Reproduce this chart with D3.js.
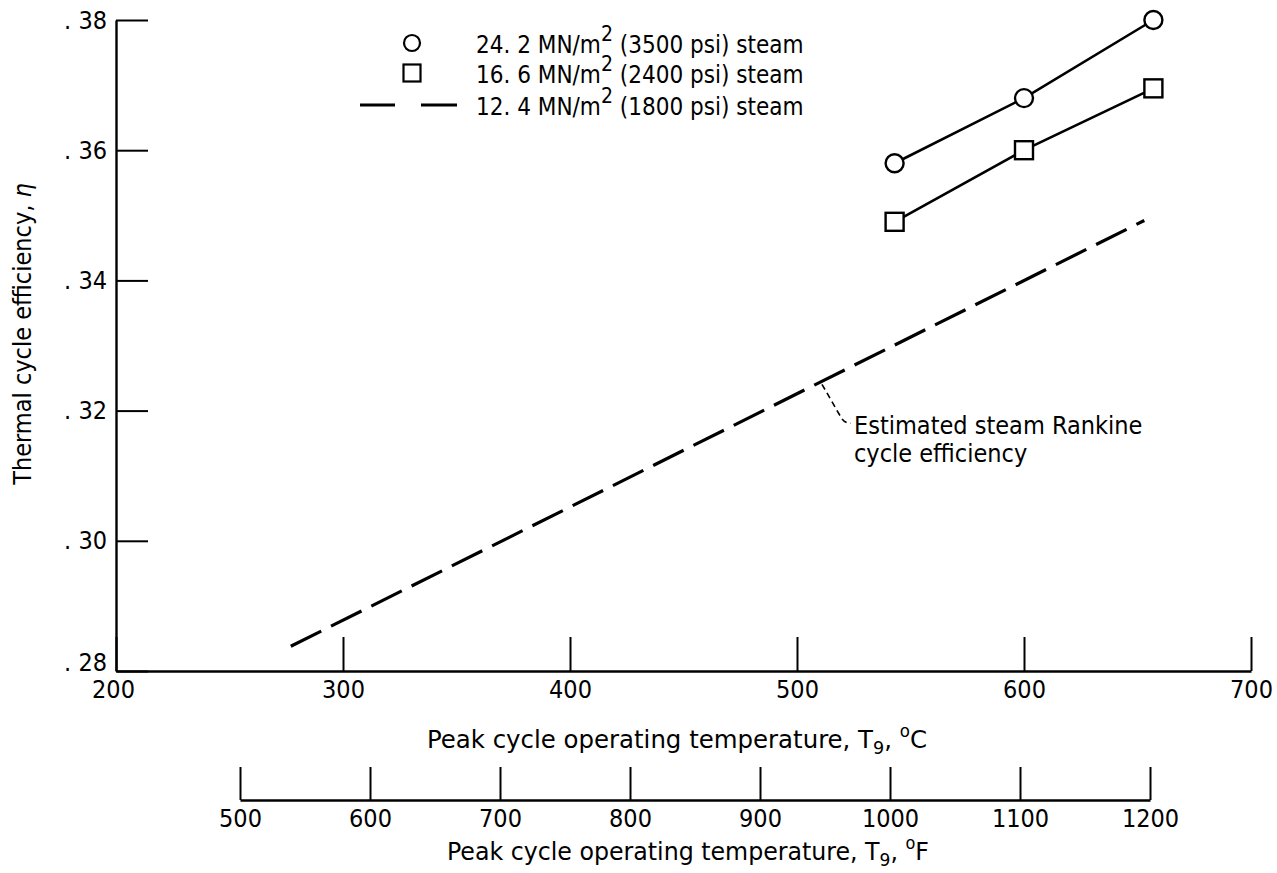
<!DOCTYPE html>
<html>
<head>
<meta charset="utf-8">
<script src="https://cdn.jsdelivr.net/npm/d3@7"></script>
<style>
  html, body { margin: 0; padding: 0; background: #fff; }
  svg { display: block; }
</style>
</head>
<body>
<script>
// Peak cycle temperatures (deg C) of the plotted steam conditions
const tempC = [543, 600, 657];
// Thermal cycle efficiency at 24.2 MN/m^2 (3500 psi)
const eff3500 = [0.358, 0.368, 0.380];
// Thermal cycle efficiency at 16.6 MN/m^2 (2400 psi)
const eff2400 = [0.349, 0.360, 0.3695];
// Estimated Rankine cycle efficiency, 12.4 MN/m^2 (1800 psi) – straight line end points
const rankineC = [277, 653];
const rankineEff = [0.2838, 0.3492];

// Axis ticks
const yTicks = [0.28, 0.30, 0.32, 0.34, 0.36, 0.38];
const cTicks = [200, 300, 400, 500, 600, 700];
const fTicks = [500, 600, 700, 800, 900, 1000, 1100, 1200];

// Legend entries
const legendPressure = ["24. 2", "16. 6", "12. 4"];
const legendPsi = ["3500", "2400", "1800"];

const FONT = "'Liberation Sans Narrow', 'DejaVu Sans Condensed', 'Liberation Sans', sans-serif";
const INK = "#000";

const W = 1277, H = 873;
const svg = d3.select("body").append("svg")
  .attr("width", W).attr("height", H)
  .attr("font-family", FONT);

svg.append("rect").attr("width", W).attr("height", H).attr("fill", "#fff");

const x = d3.scaleLinear().domain([200, 700]).range([116, 1251]);
const y = d3.scaleLinear().domain([0.28, 0.38]).range([671, 20]);
const xF = d3.scaleLinear().domain([500, 1200]).range([240, 1150]);

function styleAxis(g, size) {
  g.select(".domain").attr("stroke", INK).attr("stroke-width", 2.4);
  g.selectAll(".tick line").attr("stroke", INK).attr("stroke-width", 2);
  g.selectAll(".tick text").attr("fill", INK).attr("font-size", size).attr("font-family", FONT);
}

// Celsius axis (ticks point up into the plot)
const gx = svg.append("g")
  .attr("transform", `translate(0,${y(0.28)})`)
  .call(d3.axisBottom(x).tickValues(cTicks).tickSizeInner(-34).tickSizeOuter(0)
    .tickPadding(9).tickFormat(d3.format("d")));
styleAxis(gx, 25);
gx.selectAll(".tick text").filter(d => d === 200).attr("dx", -3);

// Efficiency axis (ticks point right into the plot)
const gy = svg.append("g")
  .attr("transform", `translate(${x(200)},0)`)
  .call(d3.axisLeft(y).tickValues(yTicks).tickSizeInner(-32).tickSizeOuter(0)
    .tickPadding(9).tickFormat(d => ". " + d3.format(".2f")(d).slice(2)));
styleAxis(gy, 25);
// lowest label sits just above the corner, clear of the "200"
gy.selectAll(".tick text").filter(d => d === 0.28).attr("y", -9);

// Fahrenheit axis below
const gf = svg.append("g")
  .attr("transform", "translate(0,800)")
  .call(d3.axisBottom(xF).tickValues(fTicks).tickSizeInner(-33).tickSizeOuter(0)
    .tickPadding(9).tickFormat(d3.format("d")));
styleAxis(gf, 25);

// Axis titles
const yTitle = svg.append("text")
  .attr("transform", "translate(31,334) rotate(-90)")
  .attr("text-anchor", "middle")
  .attr("font-size", 25).attr("fill", INK);
yTitle.append("tspan").text("Thermal cycle efficiency, ");
yTitle.append("tspan").attr("font-style", "italic").text("η");

function tempTitle(cx, by, unit, len) {
  const t = svg.append("text")
    .attr("x", cx).attr("y", by)
    .attr("text-anchor", "middle")
    .attr("font-size", 25).attr("fill", INK)
    .attr("textLength", len).attr("lengthAdjust", "spacingAndGlyphs");
  t.append("tspan").text("Peak cycle operating temperature, T");
  t.append("tspan").attr("font-size", 18).attr("dy", 6).text("9");
  t.append("tspan").attr("dy", -6).text(",  ");
  t.append("tspan").attr("font-size", 17).attr("dy", -11).text("o");
  t.append("tspan").attr("dy", 11).text(unit);
}
tempTitle(677, 748, "C", 500);
tempTitle(688, 860, "F", 482);

// Series
const line = d3.line().x(d => x(d[0])).y(d => y(d[1]));
const s3500 = tempC.map((t, i) => [t, eff3500[i]]);
const s2400 = tempC.map((t, i) => [t, eff2400[i]]);
const sRankine = rankineC.map((t, i) => [t, rankineEff[i]]);

svg.append("path").datum(sRankine)
  .attr("d", line).attr("fill", "none")
  .attr("stroke", INK).attr("stroke-width", 3.2)
  .attr("stroke-dasharray", "34,11");

[s3500, s2400].forEach(s => {
  svg.append("path").datum(s)
    .attr("d", line).attr("fill", "none")
    .attr("stroke", INK).attr("stroke-width", 2.6);
});

svg.append("g").selectAll("circle").data(s3500).join("circle")
  .attr("cx", d => x(d[0])).attr("cy", d => y(d[1])).attr("r", 9)
  .attr("fill", "#fff").attr("stroke", INK).attr("stroke-width", 2.4);

const sq = 18;
svg.append("g").selectAll("rect").data(s2400).join("rect")
  .attr("x", d => x(d[0]) - sq / 2).attr("y", d => y(d[1]) - sq / 2)
  .attr("width", sq).attr("height", sq)
  .attr("fill", "#fff").attr("stroke", INK).attr("stroke-width", 2.4);

// Annotation with dashed leader from the Rankine line
const rankineAt = d3.scaleLinear().domain(rankineC).range(rankineEff);
const aT = 511;
const ax = x(aT), ay = y(rankineAt(aT));
svg.append("path")
  .attr("d", `M${ax},${ay + 3} L${ax + 19},${ay + 36} Q${ax + 22},${ay + 42} ${ax + 29},${ay + 42}`)
  .attr("fill", "none").attr("stroke", INK).attr("stroke-width", 1.6)
  .attr("stroke-dasharray", "6,4");
const note = svg.append("text").attr("font-size", 25).attr("fill", INK);
note.append("tspan").attr("x", ax + 32).attr("y", ay + 53).text("Estimated steam Rankine");
note.append("tspan").attr("x", ax + 32).attr("y", ay + 81).text("cycle efficiency");

// Legend
const legend = svg.append("g");
const rowY = [43, 73, 105];
legend.append("circle").attr("cx", 412).attr("cy", rowY[0]).attr("r", 8)
  .attr("fill", "#fff").attr("stroke", INK).attr("stroke-width", 2.2);
legend.append("rect").attr("x", 412 - 8.5).attr("y", rowY[1] - 8.5)
  .attr("width", 17).attr("height", 17)
  .attr("fill", "#fff").attr("stroke", INK).attr("stroke-width", 2.2);
[[360, 395], [421, 457]].forEach(([a, b]) => {
  legend.append("line").attr("x1", a).attr("x2", b)
    .attr("y1", rowY[2]).attr("y2", rowY[2])
    .attr("stroke", INK).attr("stroke-width", 3.2);
});
legendPressure.forEach((p, i) => {
  const t = legend.append("text")
    .attr("x", 476).attr("y", rowY[i] + 10)
    .attr("font-size", 24).attr("fill", INK);
  t.append("tspan").text(p + " MN/m");
  t.append("tspan").attr("font-size", 21).attr("dy", -12).text("2");
  t.append("tspan").attr("dy", 12).text(" (" + legendPsi[i] + " psi) steam");
});
</script>
</body>
</html>
